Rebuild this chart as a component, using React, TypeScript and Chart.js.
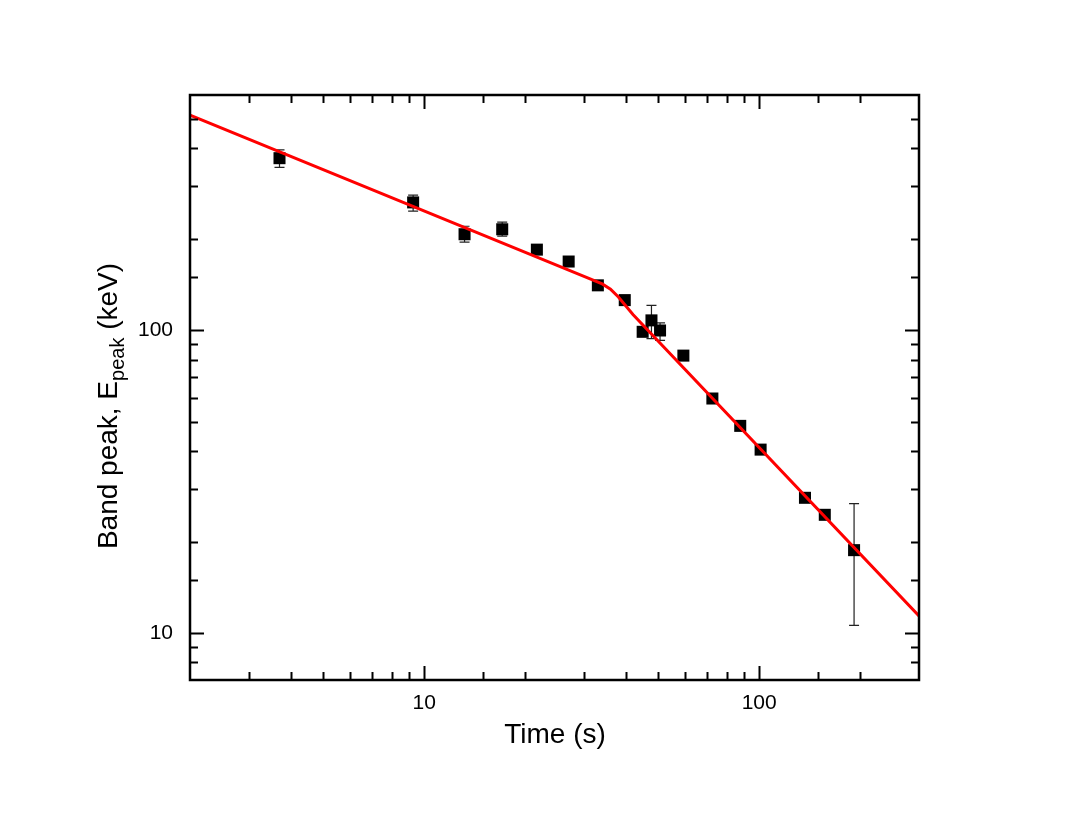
import React, { useEffect, useRef } from "react";
import { Chart, registerables } from "chart.js";

Chart.register(...registerables);

// Data points (time in s, Band peak energy in keV)
const timeS = [3.7, 9.27, 13.2, 17.1, 21.7, 27.0, 33.0, 39.7, 44.9, 47.7, 50.6, 59.4, 72.5, 87.8, 101, 137, 157, 192];
const epeak = [371, 265, 208, 216, 185, 169, 141, 126, 99, 108, 100, 82.6, 59.6, 48.4, 40.4, 28.0, 24.6, 18.8];
const errLow = [346, 248, 196, 205, 179, 164, 138, 123, 96, 94, 92.7, 80.5, 58, 47.3, 39.3, 27.3, 24.0, 10.6];
const errHigh = [395, 280, 221, 228, 191, 174, 145, 129, 102, 121, 106, 84.5, 61, 49.5, 41.5, 28.7, 25.2, 26.8];

// Broken power-law fit curve
const fitTime = [2, 30, 34, 36, 38, 42, 300];
const fitEpeak = [515, 151, 142.5, 137, 129, 113, 11.4];

// Labeled tick values
const xTickLabels = [10, 100];
const yTickLabels = [10, 100];

const X_MIN = 2;
const X_MAX = 300;
const Y_MIN = 7;
const Y_MAX = 600;

const FONT = "'Liberation Sans', Arial, sans-serif";

const errorBarPlugin = {
  id: "errorBars",
  beforeDatasetsDraw(chart: any) {
    const { ctx } = chart;
    const xs = chart.scales.x;
    const ys = chart.scales.y;
    ctx.save();
    ctx.strokeStyle = "#222";
    ctx.lineWidth = 1.2;
    for (let i = 0; i < timeS.length; i++) {
      const px = xs.getPixelForValue(timeS[i]);
      const pLo = ys.getPixelForValue(errLow[i]);
      const pHi = ys.getPixelForValue(errHigh[i]);
      ctx.beginPath();
      ctx.moveTo(px, pLo);
      ctx.lineTo(px, pHi);
      ctx.moveTo(px - 5, pLo);
      ctx.lineTo(px + 5, pLo);
      ctx.moveTo(px - 5, pHi);
      ctx.lineTo(px + 5, pHi);
      ctx.stroke();
    }
    ctx.restore();
  },
};

const frameTicksPlugin = {
  id: "frameTicks",
  afterDraw(chart: any) {
    const { ctx, chartArea } = chart;
    const { left, right, top, bottom } = chartArea;
    const xs = chart.scales.x;
    const ys = chart.scales.y;
    ctx.save();
    ctx.strokeStyle = "#000";
    ctx.lineWidth = 2;
    const isMajor = (v: number) => Math.abs(Math.log10(v) - Math.round(Math.log10(v))) < 1e-9;
    ctx.beginPath();
    xs.ticks.forEach((t: any) => {
      const v = t.value;
      if (v <= X_MIN || v >= X_MAX) return;
      const px = Math.round(xs.getPixelForValue(v)) + 0.5;
      const len = isMajor(v) ? 14 : 8;
      ctx.moveTo(px, bottom);
      ctx.lineTo(px, bottom - len);
      ctx.moveTo(px, top);
      ctx.lineTo(px, top + len);
    });
    ys.ticks.forEach((t: any) => {
      const v = t.value;
      if (v <= Y_MIN || v >= Y_MAX) return;
      const py = Math.round(ys.getPixelForValue(v)) + 0.5;
      const len = isMajor(v) ? 14 : 8;
      ctx.moveTo(left, py);
      ctx.lineTo(left + len, py);
      ctx.moveTo(right, py);
      ctx.lineTo(right - len, py);
    });
    ctx.stroke();
    ctx.lineWidth = 2.5;
    ctx.strokeRect(left, top, right - left, bottom - top);

    // Axis titles
    ctx.fillStyle = "#000";
    ctx.font = `28px ${FONT}`;
    ctx.textAlign = "center";
    ctx.textBaseline = "alphabetic";
    ctx.fillText("Time (s)", 555, 743);

    // Y title with subscript
    const main1 = "Band peak, E";
    const sub = "peak";
    const main2 = " (keV)";
    ctx.font = `28px ${FONT}`;
    const w1 = ctx.measureText(main1).width;
    const w3 = ctx.measureText(main2).width;
    ctx.font = `20px ${FONT}`;
    const w2 = ctx.measureText(sub).width;
    const total = w1 + w2 + w3;
    ctx.translate(117, 406);
    ctx.rotate(-Math.PI / 2);
    ctx.textAlign = "left";
    ctx.textBaseline = "alphabetic";
    let x0 = -total / 2;
    ctx.font = `28px ${FONT}`;
    ctx.fillText(main1, x0, 0);
    x0 += w1;
    ctx.font = `20px ${FONT}`;
    ctx.fillText(sub, x0, 7);
    x0 += w2;
    ctx.font = `28px ${FONT}`;
    ctx.fillText(main2, x0, 0);
    ctx.restore();
  },
};

export default function App() {
  const canvasRef = useRef<HTMLCanvasElement>(null);

  useEffect(() => {
    if (!canvasRef.current) return;
    const chart = new Chart(canvasRef.current, {
      type: "scatter",
      data: {
        datasets: [
          {
            type: "line",
            label: "fit",
            data: fitTime.map((t, i) => ({ x: t, y: fitEpeak[i] })),
            borderColor: "#ff0000",
            borderWidth: 3,
            pointRadius: 0,
            fill: false,
            tension: 0,
            order: 0,
          } as any,
          {
            type: "scatter",
            label: "data",
            data: timeS.map((t, i) => ({ x: t, y: epeak[i] })),
            pointStyle: "rect",
            pointRadius: 8.5,
            backgroundColor: "#000",
            borderColor: "#000",
            borderWidth: 0,
            order: 1,
          },
        ],
      },
      options: {
        responsive: false,
        animation: false,
        devicePixelRatio: 1,
        layout: { padding: { top: 95, right: 148, left: 0, bottom: 0 } },
        plugins: {
          legend: { display: false },
          tooltip: { enabled: false },
        },
        scales: {
          x: {
            type: "logarithmic",
            min: X_MIN,
            max: X_MAX,
            grid: { display: false, drawTicks: false },
            border: { display: false },
            ticks: {
              autoSkip: false,
              maxRotation: 0,
              padding: 11,
              color: "#000",
              font: { family: FONT, size: 21 },
              callback: (v: any) => (xTickLabels.includes(Number(v)) ? String(v) : ""),
            },
            afterFit: (s: any) => {
              s.height = 137;
            },
          },
          y: {
            type: "logarithmic",
            min: Y_MIN,
            max: Y_MAX,
            grid: { display: false, drawTicks: false },
            border: { display: false },
            ticks: {
              autoSkip: false,
              padding: 17,
              color: "#000",
              font: { family: FONT, size: 21 },
              callback: (v: any) => (yTickLabels.includes(Number(v)) ? String(v) : ""),
            },
            afterFit: (s: any) => {
              s.width = 190;
            },
          },
        },
      },
      plugins: [errorBarPlugin, frameTicksPlugin],
    });
    return () => chart.destroy();
  }, []);

  return (
    <div style={{ position: "fixed", left: 0, top: 0, width: 1067, height: 817, background: "#fff" }}>
      <canvas ref={canvasRef} width={1067} height={817} />
    </div>
  );
}
